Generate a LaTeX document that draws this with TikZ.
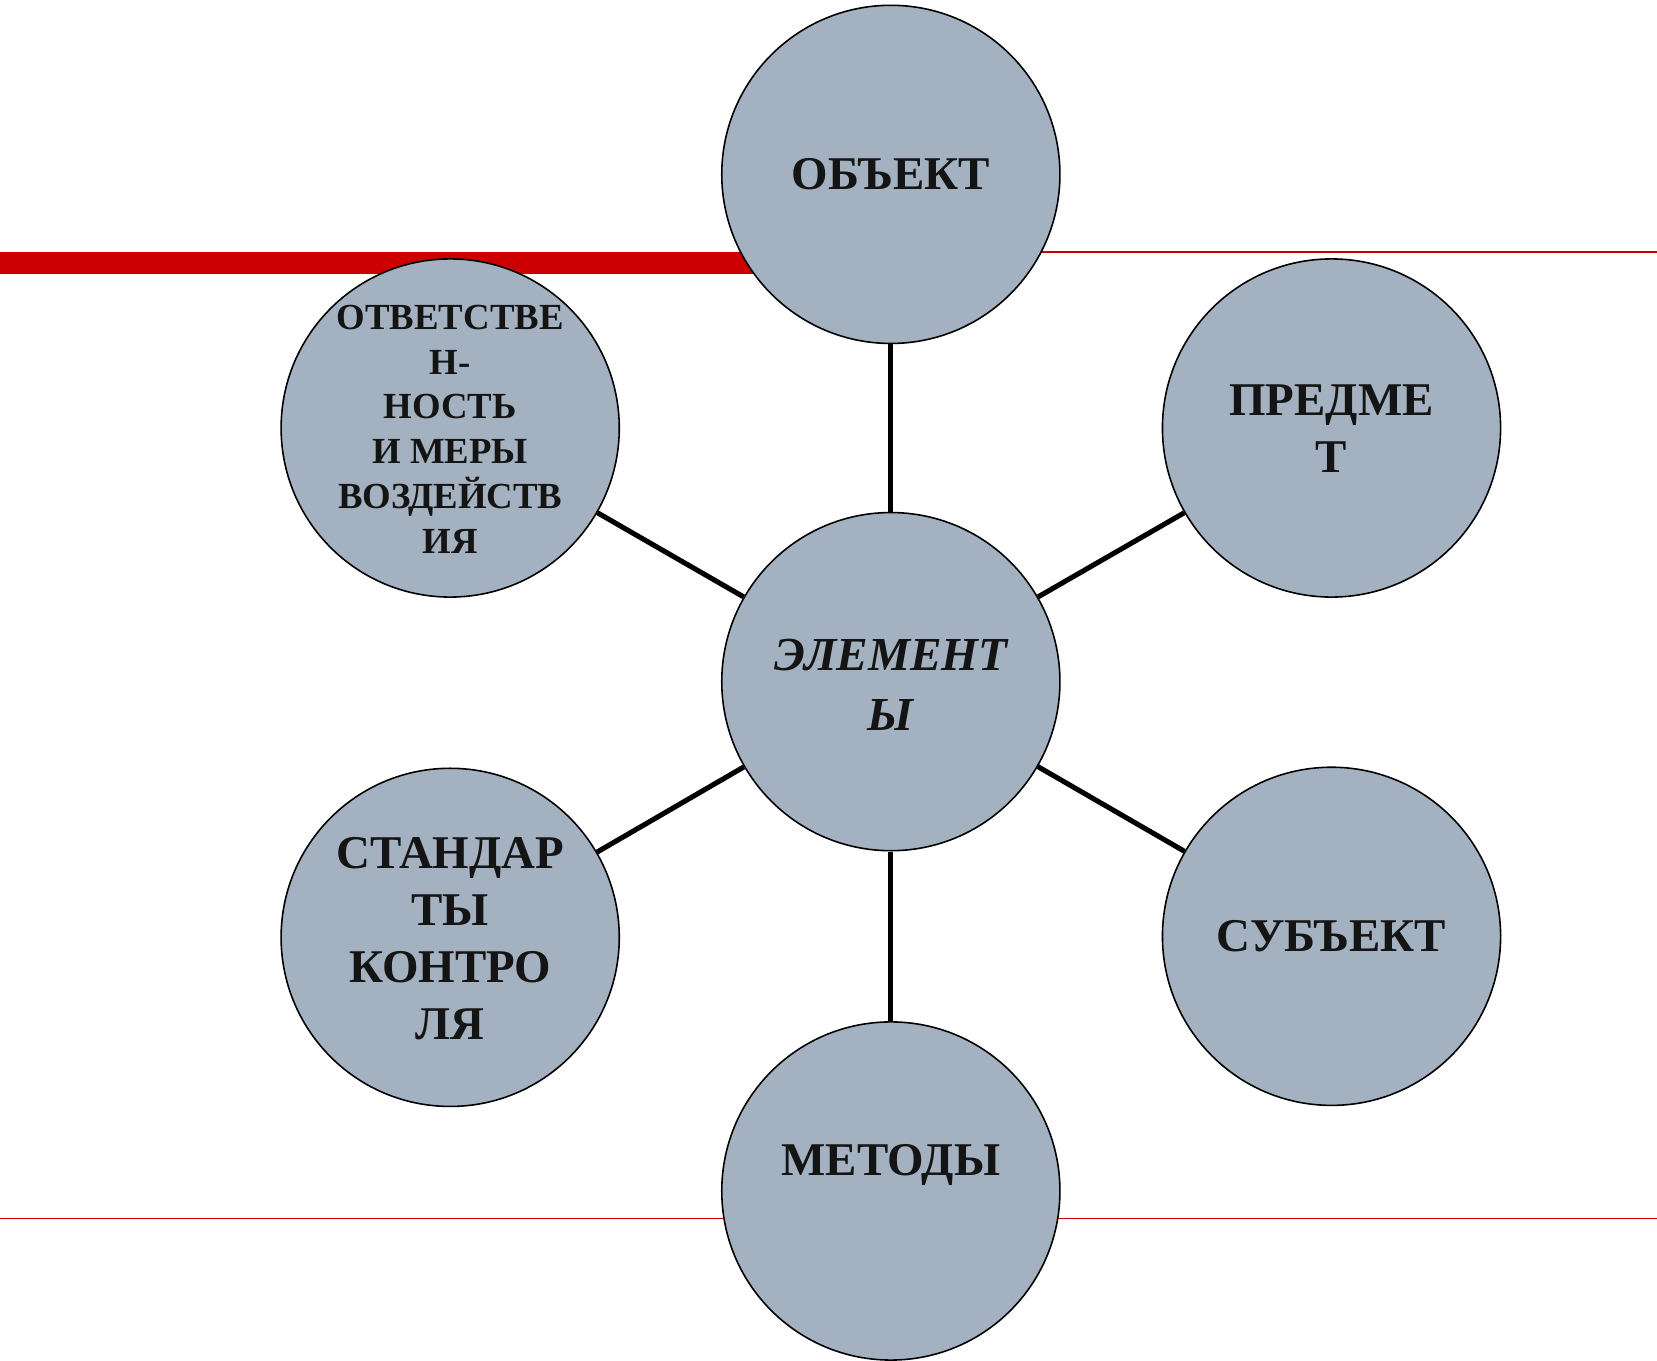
\documentclass[tikz,border=0pt]{standalone}
\usepackage{fontspec}
\setmainfont{Liberation Serif}
\definecolor{circfill}{RGB}{163,177,192}
\definecolor{redc}{RGB}{204,0,0}
\definecolor{textcol}{RGB}{20,20,20}
\begin{document}
\begin{tikzpicture}[x=0.5pt,y=-0.5pt,
  circ/.style={circle,draw=black,line width=0.75pt,fill=circfill,minimum size=160pt,inner sep=0pt},
  lbl/.style={font=\bfseries\fontsize{22.2}{27}\selectfont,align=center,text=textcol,inner sep=0pt},
  lblit/.style={font=\bfseries\itshape\fontsize{22.4}{28}\selectfont,align=center,text=textcol,inner sep=0pt},
  lblsmall/.style={font=\bfseries\fontsize{17.4}{21.2}\selectfont,align=center,text=textcol,inner sep=0pt},
  conn/.style={line width=2.4pt,draw=black},
  redthin/.style={draw=redc,line width=0.75pt}]
\useasboundingbox (0,0) rectangle (1568,1287);
% red rules
\fill[redc] (0,238) rectangle (843,259);
\coordinate (rl0) at (843,238.5);
\coordinate (rl1) at (1568,238.5);
\draw[redthin] (rl0) -- (rl1);
\coordinate (bl0) at (0,1153);
\coordinate (bl1) at (1568,1153);
\draw[redthin] (bl0) -- (bl1);
% circles
\node[circ] (obj) at (843,165) {};
\node[circ] (el) at (843,645) {};
\node[circ] (pred) at (1260,405) {};
\node[circ] (subj) at (1260,886) {};
\node[circ] (met) at (843,1127) {};
\node[circ] (std) at (426,887) {};
\node[circ] (otv) at (426,405) {};
% connectors
\draw[conn] (obj) -- (el);
\draw[conn] (pred) -- (el);
\draw[conn] (subj) -- (el);
\draw[conn] (met) -- (el);
\draw[conn] (std) -- (el);
\draw[conn] (otv) -- (el);
% labels
\node[lbl] (tobj) at (843,165) {ОБЪЕКТ};
\node[lblit] (tel) at (843,648) {ЭЛЕМЕНТ\\Ы};
\node[lbl] (tpred) at (1260,406) {ПРЕДМЕ\\Т};
\node[lbl] (tsubj) at (1260,886) {СУБЪЕКТ};
\node[lbl] (tmet) at (843,1102) {МЕТОДЫ};
\node[lbl] (tstd) at (426,888) {СТАНДАР\\ТЫ\\КОНТРО\\ЛЯ};
\node[lblsmall] (totv) at (426,406) {ОТВЕТСТВЕ\\Н-\\НОСТЬ\\И МЕРЫ\\ВОЗДЕЙСТВ\\ИЯ};
\end{tikzpicture}
\end{document}
